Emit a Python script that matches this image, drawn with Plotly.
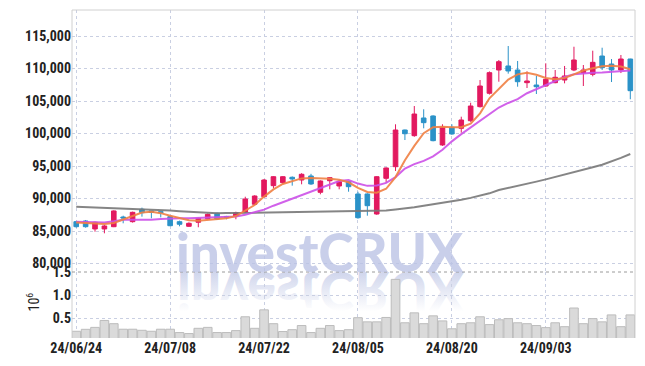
import base64
import pandas as pd
import plotly.graph_objects as go

# ---------------- data ----------------
trade_days = pd.bdate_range("2024-06-24", "2024-09-19", freq="C",
                            holidays=["2024-08-15", "2024-09-16", "2024-09-17", "2024-09-18"])
dates = [d.strftime("%y/%m/%d") for d in trade_days]

open_ = [86440, 86550, 85320, 85320, 85670, 87160, 86440, 88350, 88090, 87980,
         87210, 86440, 85730, 86350, 86900, 87730, 87240, 87320, 87930, 89120,
         90280, 91980, 92440, 93270, 92850, 93470, 90960, 92740, 91930, 92590,
         90700, 90700, 87620, 93110, 94900, 100540, 99670, 102390, 102700, 98240,
         100960, 100800, 101970, 104130, 106190, 109770, 110390, 109770, 107820, 107460,
         107310, 107820, 108230, 109770, 109360, 109110, 111920, 110690, 109770, 111460]
high = [86560, 86700, 86440, 85930, 88200, 87360, 87980, 88600, 88120, 88000,
        87300, 86600, 86340, 87050, 87700, 87850, 87330, 87980, 90280, 90500,
        93000, 93450, 93450, 93400, 93900, 93800, 92800, 93300, 92850, 92700,
        91050, 90800, 93450, 94800, 101420, 100600, 104230, 103730, 102800, 101420,
        101420, 102590, 104740, 108230, 109550, 111310, 113460, 111160, 109560, 108850,
        110800, 109770, 110390, 113350, 110540, 112740, 113200, 111460, 112080, 111500]
low = [85520, 85520, 84900, 84650, 85600, 86190, 86300, 87210, 86960, 87100,
       85750, 85730, 85650, 85580, 86800, 86700, 86810, 86810, 87800, 89000,
       90200, 91570, 92300, 91980, 92190, 92100, 90650, 91420, 91420, 91050,
       86900, 87360, 87500, 92440, 94240, 99000, 99500, 100800, 98800, 98100,
       99800, 100130, 101800, 104000, 106000, 107970, 109210, 107200, 107000, 106080,
       107200, 107730, 107720, 109600, 107310, 108800, 109770, 107920, 109300, 105270]
close = [85670, 85670, 86350, 85780, 88090, 87010, 87880, 87820, 87880, 87830,
         85820, 86040, 86190, 86950, 87570, 86850, 87120, 87820, 89930, 90390,
         92850, 93360, 93360, 93010, 93730, 92240, 92700, 93210, 92590, 91820,
         87050, 88900, 93360, 94700, 100540, 99970, 103000, 101670, 98900, 100960,
         99930, 102080, 104230, 107310, 109360, 111050, 109620, 107970, 108080, 107200,
         108340, 108650, 108850, 111310, 109770, 110950, 110130, 109770, 111460, 106590]

ma5 = [86300, 86250, 86150, 86100, 86250, 86800, 87350, 87850, 87950, 87750,
       87350, 86950, 86650, 86600, 86700, 86800, 86950, 87300, 88100, 89000,
       90300, 91400, 92240, 92700, 93100, 93170, 93150, 93050, 92900, 92500,
       91650, 91000, 90900, 91500, 93300, 95900, 98100, 100040, 100960, 101050,
       100960, 100960, 101500, 103110, 105420, 106900, 108300, 109100, 109350, 109050,
       108550, 108350, 108550, 109100, 109700, 110050, 110350, 110430, 110300, 109880]
ma20 = [86440, 86400, 86350, 86300, 86500, 86750, 86750, 86700, 86750, 86850,
        86950, 86950, 86950, 87000, 87050, 87050, 87100, 87250, 87500, 87850,
        88300, 88900, 89450, 89950, 90550, 91100, 91650, 92150, 92700, 92850,
        92300, 91950, 92000, 92400, 93300, 94600, 95300, 95800, 96500, 97500,
        98800, 99900, 100900, 102000, 103000, 104000, 104700, 105300, 106200, 106800,
        107400, 108100, 108700, 109100, 109250, 109350, 109400, 109500, 109600, 109700]
ma60 = [88750, 88700, 88640, 88580, 88520, 88450, 88390, 88330, 88270, 88210,
        88150, 88050, 87950, 87850, 87750, 87750, 87760, 87780, 87800, 87830,
        87850, 87880, 87910, 87940, 87970, 88000, 88020, 88040, 88060, 88080,
        88100, 88100, 88100, 88150, 88300, 88450, 88650, 88900, 89100, 89350,
        89550, 89800, 90100, 90400, 90800, 91300, 91600, 91900, 92250, 92600,
        92950, 93300, 93650, 94000, 94400, 94800, 95200, 95700, 96250, 96850]

volume = [216000, 258000, 300000, 450000, 380000, 260000, 260000, 237000, 216000, 260000,
          260000, 188000, 166000, 280000, 300000, 188000, 188000, 230000, 530000, 280000,
          680000, 380000, 210000, 250000, 340000, 188000, 280000, 340000, 230000, 250000,
          510000, 420000, 420000, 515000, 1340000, 400000, 615000, 380000, 550000, 440000,
          270000, 380000, 400000, 530000, 360000, 465000, 490000, 400000, 380000, 340000,
          295000, 400000, 315000, 720000, 380000, 490000, 420000, 570000, 315000, 570000]

price_ticks = [80000, 85000, 90000, 95000, 100000, 105000, 110000, 115000]
vol_ticks = [500000, 1000000, 1500000]
vol_tick_text = ["0.5", "1.0", "1.5"]
date_ticks = dates[0::10]
date_tick_text = ["24/06/24", "24/07/08", "24/07/22", "24/08/05", "24/08/20", "24/09/03"]

# ---------------- style ----------------
UP = "#e2195f"
DOWN = "#2b92c8"
GRID = "#c9cfe2"
FONTS = "Roboto Condensed, Noto Sans Condensed, Liberation Sans, Roboto"
TICKFONT = dict(family=FONTS, size=14, color="#222222", weight="bold")
WM_COLOR = "rgba(186,194,228,0.78)"

fig = go.Figure()

fig.add_trace(go.Bar(x=dates, y=volume, xaxis="x2", yaxis="y2",
                     marker=dict(color="#dadada", line=dict(color="#bcbcbc", width=1)),
                     showlegend=False, hoverinfo="skip"))
fig.add_trace(go.Scatter(x=dates, y=ma60, mode="lines", line=dict(color="rgba(120,120,120,0.9)", width=2),
                         showlegend=False))
fig.add_trace(go.Scatter(x=dates, y=ma20, mode="lines", line=dict(color="rgba(204,80,232,0.9)", width=2),
                         showlegend=False))
fig.add_trace(go.Scatter(x=dates, y=ma5, mode="lines", line=dict(color="rgba(240,128,66,0.9)", width=2),
                         showlegend=False))
fig.add_trace(go.Candlestick(x=dates, open=open_, high=high, low=low, close=close,
                             increasing=dict(line=dict(color=UP, width=1), fillcolor=UP),
                             decreasing=dict(line=dict(color=DOWN, width=1), fillcolor=DOWN),
                             whiskerwidth=0, showlegend=False))

VSPLIT = 66 / 328

common_grid = dict(showgrid=True, gridcolor=GRID, griddash="dot", gridwidth=1,
                   zeroline=False, showline=False, automargin=False, ticks="")

fig.update_layout(
    width=637, height=358,
    margin=dict(l=64, r=10, t=2, b=28, autoexpand=False),
    paper_bgcolor="white", plot_bgcolor="white",
    bargap=0.08,
    xaxis=dict(type="category", domain=[0, 1], anchor="y", matches="x2",
               range=[-0.45, 59.5], rangeslider=dict(visible=False),
               showticklabels=False, tickvals=date_ticks, **common_grid),
    yaxis=dict(domain=[VSPLIT, 1], range=[78700, 119000], tickvals=price_ticks,
               tickformat=",", tickfont=TICKFONT, **common_grid),
    xaxis2=dict(type="category", domain=[0, 1], anchor="y2",
                range=[-0.45, 59.5], tickvals=date_ticks, ticktext=date_tick_text,
                tickfont=TICKFONT, **common_grid),
    yaxis2=dict(domain=[0, VSPLIT], range=[70000, 1500000], tickvals=vol_ticks,
                ticktext=vol_tick_text, tickfont=TICKFONT, **common_grid),
)

# frame lines (left, top, right) and separator between panels
for x0, x1, y0, y1 in [(0, 0, 0, 1), (0, 1, 1, 1), (1, 1, 0, 1)]:
    fig.add_shape(type="line", xref="paper", yref="paper", x0=x0, x1=x1, y0=y0, y1=y1,
                  line=dict(color="#d0d0d0", width=1))
fig.add_shape(type="line", xref="paper", yref="paper", x0=0, x1=1, y0=VSPLIT, y1=VSPLIT,
              line=dict(color="#9a9a9a", width=1, dash="dot"))

# volume axis multiplier
fig.add_annotation(text="10<sup>6</sup>", xref="paper", yref="paper", x=-0.07, y=0.11,
                   xanchor="center", yanchor="middle",
                   textangle=-90, showarrow=False,
                   font=dict(family=FONTS, size=14, color="#222"))

# watermark
fig.add_annotation(text="investCRUX", xref="paper", yref="paper", x=0.441, y=VSPLIT - 0.04,
                   xanchor="center", yanchor="bottom", showarrow=False,
                   font=dict(family="Lato, Open Sans", size=53, color=WM_COLOR, weight=900))

svg = ('<svg xmlns="http://www.w3.org/2000/svg" width="300" height="60" viewBox="0 0 300 60">'
       '<defs><linearGradient id="g" x1="0" y1="0" x2="0" y2="1">'
       '<stop offset="0.2" stop-color="#bcc4e4" stop-opacity="0"/>'
       '<stop offset="1" stop-color="#bcc4e4" stop-opacity="0.9"/></linearGradient></defs>'
       '<text x="150" y="0" transform="scale(1,-1)" text-anchor="middle" font-family="Lato, Open Sans" '
       'font-weight="900" font-size="53" fill="url(#g)">investCRUX</text></svg>')
src = "data:image/svg+xml;base64," + base64.b64encode(svg.encode()).decode()
fig.add_layout_image(source=src, xref="paper", yref="paper",
                     x=(170.5 - 72) / 563, y=(338 - 272) / 328, sizex=300 / 563, sizey=60 / 328,
                     xanchor="left", yanchor="top", sizing="stretch", layer="below")

fig.write_html("out.html")
